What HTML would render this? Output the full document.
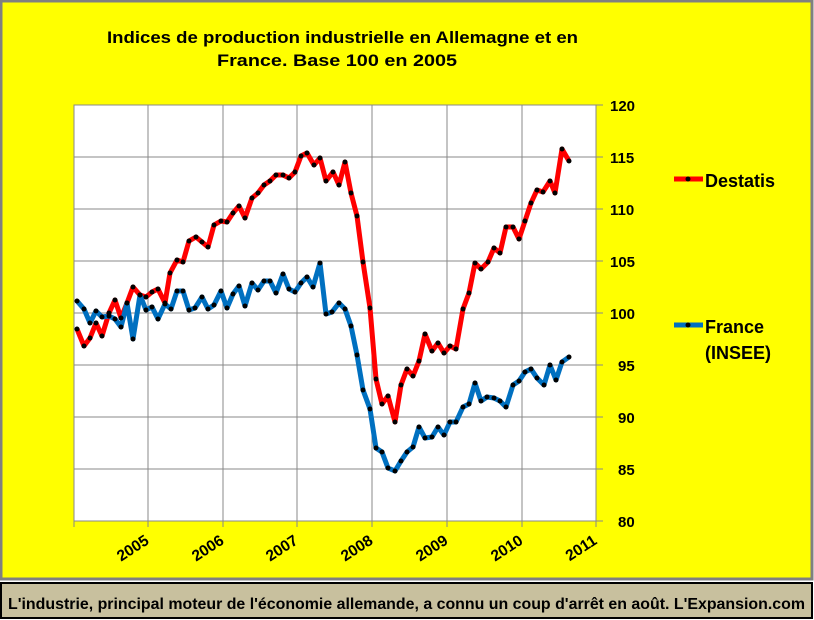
<!DOCTYPE html>
<html><head><meta charset="utf-8"><style>
html,body{margin:0;padding:0;width:814px;height:620px;overflow:hidden;background:#fff}
svg{display:block}
text{font-family:"Liberation Sans",Arial,sans-serif;font-weight:bold;fill:#000}
</style></head><body>
<svg width="814" height="620" viewBox="0 0 814 620" xmlns="http://www.w3.org/2000/svg">
<rect x="0" y="0" width="814" height="620" fill="#fff"/>
<rect x="1" y="1" width="811" height="578" fill="#ffff00" stroke="#808080" stroke-width="3"/>
<rect x="1" y="583" width="811" height="35" fill="#c8c09e" stroke="#000" stroke-width="2"/>
<text x="8" y="609" font-size="16" textLength="797" lengthAdjust="spacingAndGlyphs">L'industrie, principal moteur de l'économie allemande, a connu un coup d'arrêt en août. L'Expansion.com</text>
<text x="107" y="43" font-size="17" textLength="471" lengthAdjust="spacingAndGlyphs">Indices de production industrielle en Allemagne et en</text>
<text x="217" y="66" font-size="17" textLength="240" lengthAdjust="spacingAndGlyphs">France. Base 100 en 2005</text>
<rect x="74" y="105" width="522" height="416" fill="#fff" stroke="#888" stroke-width="1"/>
<g stroke="#888" stroke-width="1">
<line x1="74" y1="157" x2="603" y2="157"/><line x1="74" y1="209" x2="603" y2="209"/><line x1="74" y1="261" x2="603" y2="261"/><line x1="74" y1="313" x2="603" y2="313"/><line x1="74" y1="365" x2="603" y2="365"/><line x1="74" y1="417" x2="603" y2="417"/><line x1="74" y1="469" x2="603" y2="469"/>
<line x1="596" y1="105" x2="603" y2="105"/><line x1="596" y1="521" x2="603" y2="521"/>
<line x1="148" y1="105" x2="148" y2="527"/><line x1="223" y1="105" x2="223" y2="527"/><line x1="297" y1="105" x2="297" y2="527"/><line x1="372" y1="105" x2="372" y2="527"/><line x1="447" y1="105" x2="447" y2="527"/><line x1="522" y1="105" x2="522" y2="527"/><line x1="596" y1="105" x2="596" y2="527"/><line x1="74" y1="521" x2="74" y2="527"/>
</g>
<g font-size="15">
<text x="610" y="111">120</text><text x="610" y="163">115</text><text x="610" y="215">110</text><text x="610" y="267">105</text><text x="610" y="319">100</text><text x="618" y="371">95</text><text x="618" y="423">90</text><text x="618" y="475">85</text><text x="618" y="527">80</text>
</g>
<g font-size="15.5" text-anchor="end">
<text transform="translate(150,543) rotate(-33)">2005</text>
<text transform="translate(225,543) rotate(-33)">2006</text>
<text transform="translate(299,543) rotate(-33)">2007</text>
<text transform="translate(374,543) rotate(-33)">2008</text>
<text transform="translate(449,543) rotate(-33)">2009</text>
<text transform="translate(524,543) rotate(-33)">2010</text>
<text transform="translate(598,543) rotate(-33)">2011</text>
</g>
<g fill="none" stroke-linejoin="round" stroke-width="5">
<polyline stroke="#ff0000" points="77,329 84,346 90,338 96,323 102,336 109,313 115,300 121,318 127,303 133,287 140,295 146,297 152,292 158,289 165,303 170,273 177,260 183,262 189,241 196,237 202,242 208,247 214,225 221,221 227,222 233,213 239,206 245,218 252,198 258,193 264,185 270,181 276,175 283,175 289,178 295,172 301,156 307,153 314,165 320,158 326,181 333,172 339,185 345,162 351,193 357,216 363,262 370,308 376,379 382,404 388,396 395,422 401,385 407,369 413,376 419,361 425,334 432,351 438,343 444,353 450,346 456,349 463,309 469,293 475,263 481,269 488,262 494,248 500,253 506,227 513,227 519,239 525,221 531,203 537,190 543,192 550,181 555,193 562,149 569,161"/>
<polyline stroke="#0070c0" points="77,301 84,309 90,323 96,311 102,317 109,316 115,319 121,327 127,303 133,339 140,295 146,310 152,307 158,319 165,304 171,309 177,291 183,291 189,310 195,308 202,297 208,309 214,305 221,291 227,308 233,294 239,286 245,306 252,283 258,290 264,281 270,281 276,293 283,274 289,289 295,292 301,283 307,277 313,287 320,263 326,314 332,312 339,303 345,309 351,326 357,355 363,390 370,409 376,448 382,452 388,468 395,471 401,461 407,452 413,447 419,427 425,438 432,437 438,427 444,435 450,422 456,422 463,407 469,404 475,383 481,401 487,397 494,398 500,401 506,407 513,385 519,381 525,372 531,369 537,378 544,385 550,365 556,380 562,362 569,357"/>
</g>
<g id="dots" fill="#000"></g>
<line x1="674" y1="179" x2="703" y2="179" stroke="#ff0000" stroke-width="5"/>
<circle cx="688" cy="179" r="2.5" fill="#000"/>
<text x="705" y="187" font-size="18">Destatis</text>
<line x1="674" y1="325" x2="703" y2="325" stroke="#0070c0" stroke-width="5"/>
<circle cx="688" cy="325" r="2.5" fill="#000"/>
<text x="705" y="333" font-size="18">France</text>
<text x="705" y="359" font-size="18">(INSEE)</text>
</svg>
<script>
var g=document.getElementById('dots');
document.querySelectorAll('polyline').forEach(function(p){
 p.getAttribute('points').trim().split(/\s+/).forEach(function(s){
  var a=s.split(',');var c=document.createElementNS('http://www.w3.org/2000/svg','circle');
  c.setAttribute('cx',a[0]);c.setAttribute('cy',a[1]);c.setAttribute('r','2.5');g.appendChild(c);
 });
});
</script>
</body></html>
